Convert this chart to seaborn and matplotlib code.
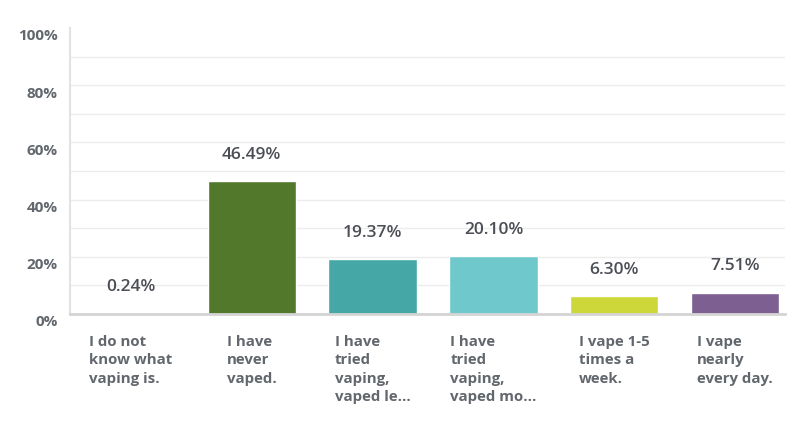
import matplotlib
matplotlib.use("Agg")
import matplotlib.pyplot as plt
import matplotlib.transforms as mtransforms
import seaborn as sns
import pandas as pd

# Survey answers and shares (%)
answers = [
    "I do not\nknow what\nvaping is.",
    "I have\nnever\nvaped.",
    "I have\ntried\nvaping,\nvaped le...",
    "I have\ntried\nvaping,\nvaped mo...",
    "I vape 1-5\ntimes a\nweek.",
    "I vape\nnearly\nevery day.",
]
shares = [0.24, 46.49, 19.37, 20.10, 6.30, 7.51]
share_labels = ["0.24%", "46.49%", "19.37%", "20.10%", "6.30%", "7.51%"]
colors = ["#2e5d8a", "#52782c", "#45a8a6", "#6fc8cb", "#cdd73a", "#7e5f91"]
y_ticks = [0, 10, 20, 30, 40, 50, 60, 70, 80, 90, 100]

df = pd.DataFrame({"answer": answers, "share": shares})

sns.set_style("white")
plt.rcParams["font.family"] = ["Open Sans", "DejaVu Sans"]

fig = plt.figure(figsize=(8, 4.28), dpi=100)
ax = fig.add_axes([0.088, 0.2664, 0.893, 0.6682])

sns.barplot(data=df, x="answer", y="share", hue="answer", palette=colors,
            legend=False, width=0.73, saturation=1, ax=ax)

for cont, lab in zip(ax.containers, share_labels):
    ax.bar_label(cont, labels=[lab], padding=13, fontsize=12.5,
                 color="#4b4f55", fontweight="semibold")

ax.set_xlim(-0.5, 5.41)
ax.set_ylim(0, 100)
ax.set_yticks(y_ticks)
ax.set_yticklabels([f"{t}%" if t % 20 == 0 else "" for t in y_ticks],
                   fontsize=11, fontweight="bold", color="#62676d")
ax.set_xticks(range(len(answers)))
ax.set_xticklabels(answers, fontsize=10.8, fontweight="bold", color="#62676d",
                   linespacing=1.4, va="top")
for lab in ax.get_xticklabels():
    lab.set_multialignment("left")

ax.tick_params(axis="x", length=0, pad=15)
ax.tick_params(axis="y", length=0, pad=9)

offset = mtransforms.ScaledTranslation(0, -5 / 72, fig.dpi_scale_trans)
for lab in ax.get_yticklabels():
    lab.set_transform(lab.get_transform() + offset)

ax.grid(axis="y", color="#ececec", linewidth=1)
ax.yaxis.get_gridlines()[-1].set_visible(False)
ax.set_axisbelow(True)

ax.set_xlabel("")
ax.set_ylabel("")
ax.spines["top"].set_visible(False)
ax.spines["right"].set_visible(False)
ax.spines["left"].set_color("#e2e2e2")
ax.spines["left"].set_linewidth(1.5)
ax.spines["bottom"].set_color("#d4d4d4")
ax.spines["bottom"].set_linewidth(2)

fig.savefig("out.png", dpi=100)
